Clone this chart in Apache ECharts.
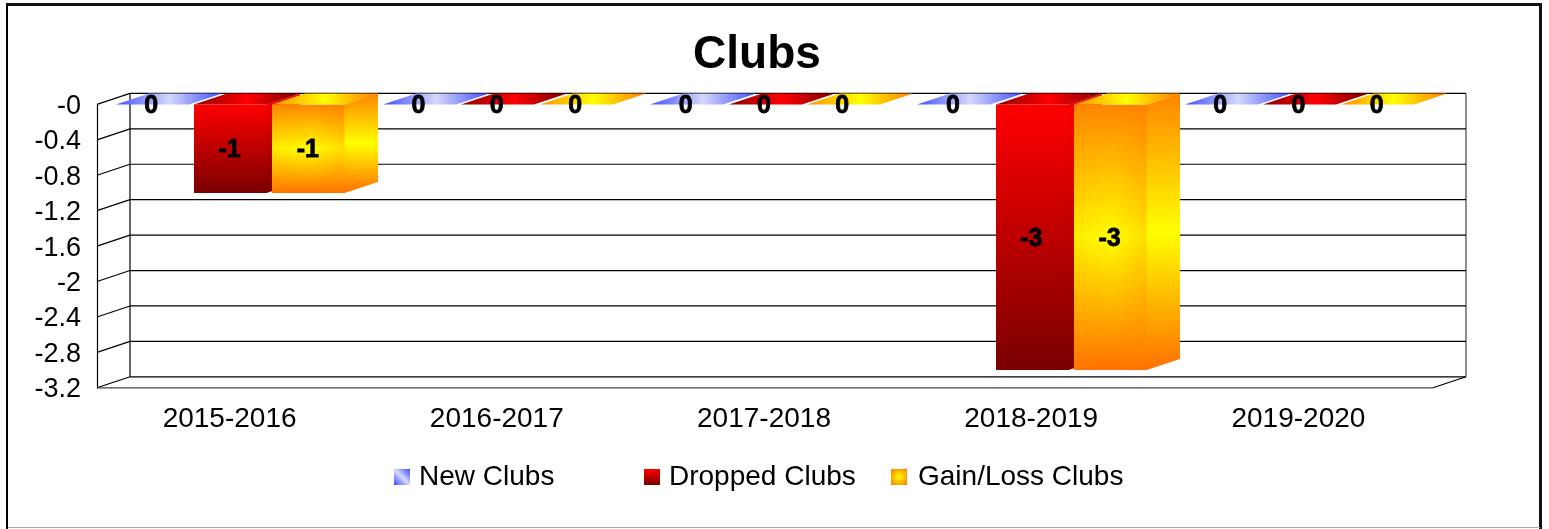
<!DOCTYPE html>
<html>
<head>
<meta charset="utf-8">
<script src="https://cdn.jsdelivr.net/npm/echarts@6/dist/echarts.min.js"></script>
<style>
  html, body { margin: 0; padding: 0; background: #fff; overflow: hidden; }
  #chart { width: 1549px; height: 529px; }
  /* outer frame of the picture */
  #frame { position: absolute; left: 6px; top: 3px; width: 1531px; height: 524px; box-sizing: content-box;
    border-top: 3px solid #111; border-left: 2px solid #000; border-right: 3px solid #111; border-bottom: 0; }
  #frameBottom { position: absolute; left: 8px; top: 527px; width: 1532px; height: 1px; background: #aaa; }
</style>
</head>
<body>
<div id="chart"></div>
<div id="frame"></div>
<div id="frameBottom"></div>
<script>
const categories = ["2015-2016", "2016-2017", "2017-2018", "2018-2019", "2019-2020"];
const newClubs = [0, 0, 0, 0, 0];
const droppedClubs = [-1, 0, 0, -3, 0];
const gainLossClubs = [-1, 0, 0, -3, 0];
const yTicks = [0, -0.4, -0.8, -1.2, -1.6, -2, -2.4, -2.8, -3.2];

const FONT = "'Liberation Sans', Arial, sans-serif";
// 3d depth of the fake box
const DX = 33;
const DY = 11;

function linear(x2, y2, stops, x, y) {
  return {
    type: "linear", x: x || 0, y: y || 0, x2: x2, y2: y2,
    colorStops: stops.map((c, i) => ({ offset: i / (stops.length - 1), color: c }))
  };
}

const themes = [
  {
    name: "New Clubs",
    legend: linear(1, 0, ["#3a46ff", "#d6d9ff", "#3a46ff"], 0, 1),
    front: [linear(0, 1, ["#d6d9ff", "#3a46ff"])],
    side: linear(0, 1, ["#d6d9ff", "#3a46ff"]),
    top: linear(1, 0, ["#3f4eff", "#d4d8fb", "#3f4eff"])
  },
  {
    name: "Dropped Clubs",
    legend: linear(0, 1, ["#ff0000", "#7a0000"]),
    front: [linear(0, 1, ["#ff0000", "#7a0000"])],
    side: linear(0, 1, ["#ff0000", "#7a0000"]),
    top: linear(1, 0, ["#8a0000", "#ff0000", "#7a0000"])
  },
  {
    name: "Gain/Loss Clubs",
    legend: { type: "radial", x: 0.5, y: 0.5, r: 0.7, colorStops: [{ offset: 0, color: "#ffff00" }, { offset: 1, color: "#ff7a00" }] },
    front: [
      linear(0, 1, ["#ff8400", "#ffff00", "#ff7000"]),
      linear(1, 0, ["rgba(255,140,0,0.15)", "rgba(255,140,0,0)", "rgba(255,120,0,0.25)"])
    ],
    side: linear(0, 1, ["#ff8400", "#ffff00", "#ff7000"]),
    top: linear(1, 0, ["#ff9000", "#ffff00", "#ff7a00"])
  }
];

function renderBox(seriesIndex, params, api) {
  const cat = api.value(0);
  const val = api.value(1);
  const band = api.size([1, 0])[0];
  const step = band * 0.293;
  const w = Math.round(band * 0.273);
  const cx = api.coord([cat, 0])[0] + (seriesIndex - 1) * step;
  const x = Math.round(cx - w / 2);
  const y0 = api.coord([cat, 0])[1];
  const y1 = api.coord([cat, val])[1];
  const t = themes[seriesIndex];
  const children = [];

  t.front.forEach(fill => {
    children.push({ type: "rect", shape: { x: x, y: y0, width: w, height: y1 - y0 }, style: { fill: fill } });
  });
  if (val !== 0) {
    children.push({
      type: "polygon",
      shape: { points: [[x + w - 0.5, y0], [x + w + DX, y0 - DY], [x + w + DX, y1 - DY], [x + w - 0.5, y1]] },
      style: { fill: t.side }
    });
  }
  children.push({
    type: "polygon",
    shape: { points: [[x, y0], [x + w, y0], [x + w + DX, y0 - DY], [x + DX, y0 - DY]] },
    style: { fill: t.top }
  });
  children.push({
    type: "text",
    z2: 100,
    style: {
      text: String(val),
      x: cx - 1,
      y: (y0 + y1) / 2 + 1.5,
      align: "center",
      verticalAlign: "middle",
      font: "bold 25px " + FONT,
      fill: "#000",
      stroke: "#000",
      lineWidth: 0.8
    }
  });
  return { type: "group", children: children };
}

// back wall, left wall and floor lines, one set per tick
function renderWall(params, api) {
  const v = api.value(0);
  const y = api.coord([0, v])[1];
  const box = params.coordSys;
  const left = box.x;
  const right = box.x + box.width;
  const lineStyle = { stroke: "#000", lineWidth: 1.2 };
  const line = (x1, y1, x2, y2, st) => ({ type: "line", silent: true, shape: { x1, y1, x2, y2 }, style: st || lineStyle });
  const children = [
    line(left, y, left + DX, y - DY),
    line(left + DX, y - DY, right + DX, y - DY)
  ];
  if (v === yTicks[0]) {
    const bottom = box.y + box.height;
    children.push(line(left + DX, y - DY, left + DX, bottom - DY));
    children.push(line(right + DX, y - DY, right + DX, bottom - DY, { stroke: "#444", lineWidth: 1.2 }));
  }
  if (v === yTicks[yTicks.length - 1]) {
    children.push(line(left, y, right, y, { stroke: "#444", lineWidth: 1.2 }));
    children.push(line(right, y, right + DX, y - DY));
  }
  return { type: "group", children: children };
}

const seriesValues = [newClubs, droppedClubs, gainLossClubs];

const chart = echarts.init(document.getElementById("chart"));
chart.setOption({
  backgroundColor: "#fff",
  animation: false,
  title: {
    text: "Clubs",
    left: 752,
    top: 27,
    textAlign: "center",
    textStyle: { fontFamily: FONT, fontSize: 46, fontWeight: "bold", color: "#000" }
  },
  legend: themes.map((t, i) => ({
    data: [t.name],
    left: [394, 644, 891][i],
    top: 463,
    padding: 0,
    itemWidth: 16,
    itemHeight: 16,
    selectedMode: false,
    icon: "rect",
    textStyle: { fontFamily: FONT, fontSize: 28, color: "#000", padding: [1, 0, 0, i === 2 ? 6 : 4] }
  })),
  grid: { left: 97, top: 104.4, width: 1336, height: 283.4, containLabel: false },
  xAxis: {
    type: "category",
    data: categories,
    position: "bottom",
    axisLine: { show: false, onZero: false },
    axisTick: { show: false },
    axisLabel: { fontFamily: FONT, fontSize: 28, color: "#000", margin: 17, padding: [0, 2, 0, 0] }
  },
  yAxis: {
    type: "value",
    min: yTicks[yTicks.length - 1],
    max: yTicks[0],
    interval: 0.4,
    axisLine: { show: true, lineStyle: { color: "#000", width: 1.2 } },
    axisTick: { show: false },
    splitLine: { show: false },
    axisLabel: {
      fontFamily: FONT, fontSize: 27, color: "#000", margin: 16,
      verticalAlign: "top",
      lineHeight: 4,
      formatter: v => (v === 0 ? "-0" : String(v))
    }
  },
  series: [
    {
      type: "custom",
      silent: true,
      z: 1,
      data: yTicks.map(v => [v]),
      encode: { y: 0 },
      renderItem: renderWall
    }
  ].concat(themes.map((t, i) => ({
    type: "custom",
    name: t.name,
    z: 2 + i,
    itemStyle: { color: t.legend },
    data: seriesValues[i].map((v, c) => [c, v]),
    encode: { x: 0, y: 1 },
    renderItem: (params, api) => renderBox(i, params, api)
  })))
});
</script>
</body>
</html>
